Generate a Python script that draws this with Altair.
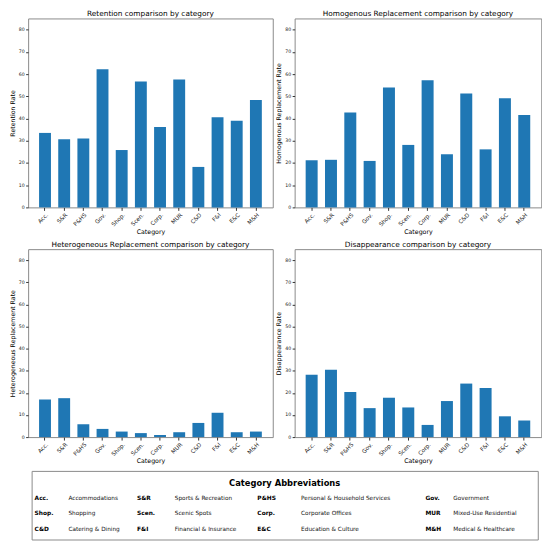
import altair as alt
import pandas as pd

categories = ["Acc.", "S&R", "P&HS", "Gov.", "Shop.", "Scen.", "Corp.", "MUR", "C&D", "F&I", "E&C", "M&H"]
retention = [33.5, 30.6, 31.0, 62.1, 25.8, 56.6, 36.2, 57.5, 18.2, 40.5, 39.0, 48.3]
homogeneous = [21.2, 21.4, 42.7, 20.9, 53.9, 28.1, 57.2, 23.9, 51.2, 26.1, 49.1, 41.6]
heterogeneous = [17.0, 17.6, 5.8, 3.7, 2.5, 1.8, 1.0, 2.2, 6.4, 11.0, 2.2, 2.5]
disappearance = [28.2, 30.4, 20.4, 13.1, 17.8, 13.4, 5.5, 16.3, 24.2, 22.2, 9.4, 7.5]

full_names = ["Accommodations", "Sports & Recreation", "Personal & Household Services", "Government",
              "Shopping", "Scenic Spots", "Corporate Offices", "Mixed-Use Residential",
              "Catering & Dining", "Financial & Insurance", "Education & Culture", "Medical & Healthcare"]

y_ticks = [0, 10, 20, 30, 40, 50, 60, 70, 80]

FONT = "DejaVu Sans"
BAR = "#1f77b4"
FRAME = "#8a8a8a"


def panel(values, title, ytitle, w, h):
    df = pd.DataFrame({"Category": categories, "Value": values})
    return alt.Chart(
        df,
        title=alt.TitleParams(title, fontSize=7.4, fontWeight="normal", offset=1,
                              frame="group", anchor="middle", color="#000"),
    ).mark_bar(color=BAR).encode(
        x=alt.X("Category:N", sort=categories,
                scale=alt.Scale(paddingInner=0.38, paddingOuter=0.57),
                axis=alt.Axis(title="Category", labelAngle=315, labelAlign="right",
                              labelBaseline="top", labelFontSize=5.7, labelPadding=1,
                              tickSize=3, labelOverlap=False, titleFontSize=6.3,
                              titlePadding=1.5, titleFontWeight="normal")),
        y=alt.Y("Value:Q", scale=alt.Scale(domain=[0, 85], nice=False, zero=True),
                axis=alt.Axis(title=ytitle, values=y_ticks, labelFontSize=4.7, tickSize=2.5,
                              labelPadding=1.5, titleFontSize=6.3, titlePadding=3,
                              titleFontWeight="normal", grid=False)),
    ).properties(width=w, height=h)


p1 = panel(retention, "Retention comparison by category", "Retention Rate", 246, 190)
p2 = panel(homogeneous, "Homogenous Replacement comparison by category", "Homogenous Replacement Rate", 248, 190)
p3 = panel(heterogeneous, "Heterogeneous Replacement comparison by category", "Heterogeneous Replacement Rate", 246, 189)
p4 = panel(disappearance, "Disappearance comparison by category", "Disappearance Rate", 248, 189)

# legend table
rows = []
for i, (ab, nm) in enumerate(zip(categories, full_names)):
    rows.append({"abbr": ab, "name": nm, "row": i // 4, "col": i % 4,
                 "slot_a": 2 * (i % 4), "slot_n": 2 * (i % 4) + 1})
leg_df = pd.DataFrame(rows)

x_scale = alt.Scale(domain=[0, 1, 2, 3, 4, 5, 6, 7],
                    range=[3, 37, 106, 144, 227, 271, 396, 424], zero=False, nice=False)
y_scale = alt.Scale(domain=[0, 1, 2], range=[27, 42.5, 58.5], zero=False, nice=False)

base = alt.Chart(leg_df)
abbr_layer = base.mark_text(align="left", baseline="middle", fontSize=5.9, fontWeight="bold",
                            color="#000").encode(
    x=alt.X("slot_a:Q", scale=x_scale, axis=None),
    y=alt.Y("row:Q", scale=y_scale, axis=None),
    text="abbr:N",
)
name_layer = base.mark_text(align="left", baseline="middle", fontSize=5.8, color="#111").encode(
    x=alt.X("slot_n:Q", scale=x_scale, axis=None),
    y=alt.Y("row:Q", scale=y_scale, axis=None),
    text="name:N",
)
legend = alt.layer(abbr_layer, name_layer).properties(
    width=509, height=69,
    title=alt.TitleParams("Category Abbreviations", fontSize=8.4, fontWeight="bold", offset=-21,
                          baseline="middle", anchor="middle", frame="group", color="#000"),
)

top = alt.hconcat(p1, p2, spacing=1)
bottom = alt.hconcat(p3, p4, spacing=1)

chart = alt.vconcat(top, bottom, legend, spacing=5, center=True).properties(
    padding={"left": 0, "top": 0, "right": 0, "bottom": 0}
).configure(font=FONT).configure_view(
    stroke=FRAME, strokeWidth=1
).configure_axis(
    domain=False, tickColor="#333", labelColor="#222", titleColor="#000", labelFont=FONT, titleFont=FONT
).configure_title(font=FONT)

chart.save("out.html", embed_options={"renderer": "svg", "actions": False})
